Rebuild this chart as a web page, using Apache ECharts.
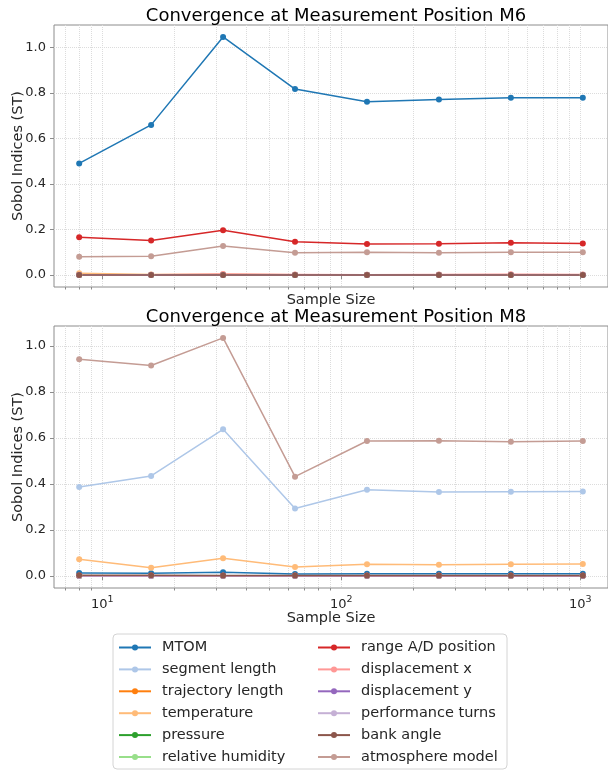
<!DOCTYPE html>
<html>
<head>
<meta charset="utf-8">
<script src="https://cdn.jsdelivr.net/npm/echarts@6/dist/echarts.min.js"></script>
<style>
  * {
    margin: 0;
    padding: 0;
  }
  #chart-container {
    width: 608px;
    height: 773px;
  }
</style>
</head>
<body>
<div id="chart-container"></div>
<script>
  // sample sizes (x) and tick values
  var sampleSizes = [8, 16, 32, 64, 128, 256, 512, 1024]
  var majorTicks = [10, 100, 1000]
  var minorTicks = [7, 8, 9, 20, 30, 40, 50, 60, 70, 80, 90, 200, 300, 400, 500, 600, 700, 800, 900]
  var yTicks = [0, 0.2, 0.4, 0.6, 0.8, 1.0]

  var parameterNames = [
    'MTOM', 'segment length', 'trajectory length', 'temperature', 'pressure', 'relative humidity',
    'range A/D position', 'displacement x', 'displacement y', 'performance turns', 'bank angle', 'atmosphere model'
  ]
  var titles = ['Convergence at Measurement Position M6', 'Convergence at Measurement Position M8']

  // M6 total Sobol indices
  var m6MTOM = [0.490, 0.659, 1.045, 0.816, 0.761, 0.770, 0.778, 0.778]
  var m6SegmentLength = [0.001, 0.001, 0.001, 0.001, 0.001, 0.001, 0.001, 0.001]
  var m6TrajectoryLength = [0.000, 0.000, 0.000, 0.000, 0.000, 0.000, 0.000, 0.000]
  var m6Temperature = [0.008, 0.003, 0.004, 0.002, 0.002, 0.002, 0.002, 0.002]
  var m6Pressure = [0.000, 0.000, 0.000, 0.000, 0.000, 0.000, 0.000, 0.000]
  var m6RelativeHumidity = [0.000, 0.000, 0.000, 0.000, 0.000, 0.000, 0.000, 0.000]
  var m6RangeAD = [0.166, 0.152, 0.197, 0.146, 0.136, 0.137, 0.142, 0.139]
  var m6DisplacementX = [0.002, 0.002, 0.005, 0.003, 0.002, 0.003, 0.004, 0.003]
  var m6DisplacementY = [0.000, 0.000, 0.000, 0.000, 0.000, 0.000, 0.000, 0.000]
  var m6PerformanceTurns = [0.000, 0.000, 0.000, 0.000, 0.000, 0.000, 0.000, 0.000]
  var m6BankAngle = [0.000, 0.000, 0.000, 0.000, 0.000, 0.000, 0.000, 0.000]
  var m6AtmosphereModel = [0.081, 0.083, 0.128, 0.098, 0.100, 0.098, 0.100, 0.100]

  // M8 total Sobol indices
  var m8MTOM = [0.013, 0.012, 0.017, 0.009, 0.010, 0.010, 0.010, 0.010]
  var m8SegmentLength = [0.387, 0.435, 0.638, 0.294, 0.375, 0.365, 0.367, 0.368]
  var m8TrajectoryLength = [0.001, 0.001, 0.001, 0.001, 0.001, 0.001, 0.001, 0.001]
  var m8Temperature = [0.073, 0.036, 0.078, 0.039, 0.051, 0.049, 0.051, 0.052]
  var m8Pressure = [0.000, 0.000, 0.000, 0.000, 0.000, 0.000, 0.000, 0.000]
  var m8RelativeHumidity = [0.000, 0.000, 0.000, 0.000, 0.000, 0.000, 0.000, 0.000]
  var m8RangeAD = [0.001, 0.001, 0.001, 0.001, 0.001, 0.001, 0.001, 0.001]
  var m8DisplacementX = [0.001, 0.001, 0.001, 0.001, 0.001, 0.001, 0.001, 0.001]
  var m8DisplacementY = [0.002, 0.002, 0.002, 0.002, 0.002, 0.002, 0.002, 0.002]
  var m8PerformanceTurns = [0.001, 0.001, 0.001, 0.001, 0.001, 0.001, 0.001, 0.001]
  var m8BankAngle = [0.004, 0.004, 0.003, 0.003, 0.003, 0.003, 0.003, 0.003]
  var m8AtmosphereModel = [0.942, 0.915, 1.035, 0.432, 0.587, 0.588, 0.584, 0.587]

  var m6Series = [m6MTOM, m6SegmentLength, m6TrajectoryLength, m6Temperature, m6Pressure, m6RelativeHumidity,
    m6RangeAD, m6DisplacementX, m6DisplacementY, m6PerformanceTurns, m6BankAngle, m6AtmosphereModel]
  var m8Series = [m8MTOM, m8SegmentLength, m8TrajectoryLength, m8Temperature, m8Pressure, m8RelativeHumidity,
    m8RangeAD, m8DisplacementX, m8DisplacementY, m8PerformanceTurns, m8BankAngle, m8AtmosphereModel]

  var colors = ['#1f77b4', '#aec7e8', '#ff7f0e', '#ffbb78', '#2ca02c', '#98df8a',
    '#d62728', '#ff9896', '#9467bd', '#c5b0d5', '#8c564b', '#c49c94']

  var font = 'DejaVu Sans'
  var spine = '#8c8c8c'
  var gridColor = '#dcdcdc'
  var textColor = '#262626'

  // matplotlib-like 5% margins in log space
  var lo = Math.log10(sampleSizes[0])
  var hi = Math.log10(sampleSizes[sampleSizes.length - 1])
  var xMin = Math.pow(10, lo - 0.05 * (hi - lo))
  var xMax = Math.pow(10, hi + 0.05 * (hi - lo))

  function yLimits(list) {
    var all = [].concat.apply([], list)
    var mn = Math.min.apply(null, all)
    var mx = Math.max.apply(null, all)
    var pad = 0.05 * (mx - mn)
    return [mn - pad, mx + pad]
  }

  function majorX(gridIndex, showLabels) {
    return {
      type: 'log',
      logBase: 10,
      gridIndex: gridIndex,
      min: xMin,
      max: xMax,
      position: 'bottom',
      name: 'Sample Size',
      nameLocation: 'middle',
      nameGap: showLabels ? 23 : 6,
      nameMoveOverlap: false,
      nameTextStyle: { fontFamily: font, fontSize: 14.5, color: textColor, verticalAlign: 'top' },
      axisLine: { show: false },
      axisTick: { show: true, length: 4, lineStyle: { color: spine }, customValues: majorTicks },
      axisLabel: {
        show: showLabels,
        customValues: majorTicks,
        fontFamily: font,
        color: textColor,
        margin: 7,
        formatter: function (v) {
          return '{a|10}{b|' + Math.round(Math.log10(v)) + '}'
        },
        rich: {
          a: { fontFamily: font, fontSize: 13, color: textColor, lineHeight: 16, verticalAlign: 'bottom' },
          b: { fontFamily: font, fontSize: 9.5, color: textColor, lineHeight: 16, verticalAlign: 'top', padding: [0, 0, 6, 0] },
        },
      },
      splitLine: { show: true, lineStyle: { color: gridColor, type: 'dotted', width: 1 } },
    }
  }

  function minorX(gridIndex) {
    return {
      type: 'log',
      logBase: 10,
      gridIndex: gridIndex,
      min: xMin,
      max: xMax,
      position: 'bottom',
      axisLine: { show: false },
      axisTick: { show: true, length: 2.5, lineStyle: { color: spine }, customValues: minorTicks },
      axisLabel: { show: false, customValues: minorTicks },
      splitLine: { show: true, lineStyle: { color: gridColor, type: 'dotted', width: 1 } },
    }
  }

  function yAxisFor(gridIndex, lim) {
    return {
      type: 'value',
      gridIndex: gridIndex,
      min: lim[0],
      max: lim[1],
      name: 'Sobol Indices (ST)',
      nameLocation: 'middle',
      nameGap: 28,
      nameMoveOverlap: false,
      nameTextStyle: { fontFamily: font, fontSize: 14.5, color: textColor },
      axisLine: { show: false },
      axisTick: { show: true, length: 4, lineStyle: { color: spine }, customValues: yTicks },
      axisLabel: {
        customValues: yTicks,
        fontFamily: font,
        fontSize: 13,
        color: textColor,
        margin: 8,
        formatter: function (v) {
          return v.toFixed(1)
        },
      },
      splitLine: { show: true, lineStyle: { color: gridColor, type: 'dotted', width: 1 } },
    }
  }

  function buildSeries(list, xIndex, yIndex) {
    return list.map(function (vals, k) {
      return {
        type: 'line',
        name: parameterNames[k],
        xAxisIndex: xIndex,
        yAxisIndex: yIndex,
        data: sampleSizes.map(function (s, i) {
          return [s, vals[i]]
        }),
        symbol: 'circle',
        symbolSize: 6,
        color: colors[k],
        lineStyle: { width: 1.5, color: colors[k] },
        itemStyle: { color: colors[k] },
        emphasis: { disabled: true },
      }
    })
  }

  function legendFor(names, left) {
    return {
      data: names,
      orient: 'vertical',
      left: left,
      top: 640,
      itemWidth: 32,
      itemHeight: 7.5,
      itemGap: 6.9,
      padding: 0,
      textStyle: { fontFamily: font, fontSize: 14.5, color: textColor, lineHeight: 14, padding: [0, 0, 0, 6] },
    }
  }

  var chart = echarts.init(document.getElementById('chart-container'), null, { renderer: 'canvas' })

  var option = {
    animation: false,
    backgroundColor: '#fff',
    title: [
      { text: titles[0], left: 331, top: 2, textAlign: 'center', textStyle: { fontFamily: font, fontSize: 18, fontWeight: 'normal', color: '#000' } },
      { text: titles[1], left: 331, top: 303, textAlign: 'center', textStyle: { fontFamily: font, fontSize: 18, fontWeight: 'normal', color: '#000' } },
    ],
    grid: [
      { left: 54, top: 25, width: 554, height: 262, show: true, borderColor: spine, borderWidth: 1, containLabel: false, outerBoundsMode: 'none' },
      { left: 54, top: 326, width: 554, height: 262, show: true, borderColor: spine, borderWidth: 1, containLabel: false, outerBoundsMode: 'none' },
    ],
    xAxis: [majorX(0, false), minorX(0), majorX(1, true), minorX(1)],
    yAxis: [yAxisFor(0, yLimits(m6Series)), yAxisFor(1, yLimits(m8Series))],
    legend: [legendFor(parameterNames.slice(0, 6), 118), legendFor(parameterNames.slice(6), 317)],
    graphic: [
      {
        type: 'rect',
        z: 0,
        shape: { x: 113, y: 634, width: 394, height: 135, r: 4 },
        style: { fill: '#fff', stroke: '#d4d4d4', lineWidth: 1 },
      },
    ],
    series: buildSeries(m6Series, 0, 0).concat(buildSeries(m8Series, 2, 1)),
  }

  chart.setOption(option)
  window.addEventListener('resize', chart.resize)
</script>
</body>
</html>
